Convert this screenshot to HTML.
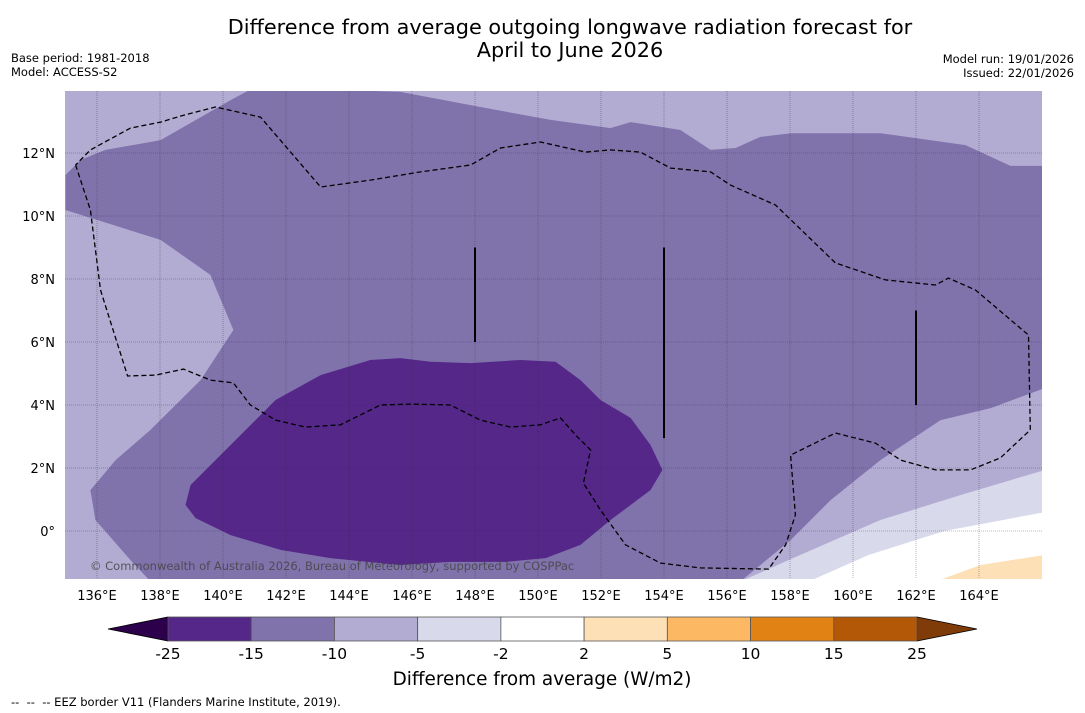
<!DOCTYPE html>
<html><head><meta charset="utf-8">
<style>
body{margin:0;background:#fff;width:1085px;height:713px;overflow:hidden;font-family:"DejaVu Sans","Liberation Sans",sans-serif;}
svg{position:absolute;left:0;top:0}
</style></head>
<body>
<svg id="chart" width="1085" height="713" viewBox="0 0 1085 713">
<text x="570" y="34" text-anchor="middle" font-size="20.8">Difference from average outgoing longwave radiation forecast for</text>
<text x="570" y="57" text-anchor="middle" font-size="20.8">April to June 2026</text>
<text x="11" y="62" font-size="11.5">Base period: 1981-2018</text>
<text x="11" y="76" font-size="11.5">Model: ACCESS-S2</text>
<text x="1074" y="63" font-size="11.5" text-anchor="end">Model run: 19/01/2026</text>
<text x="1074" y="77" font-size="11.5" text-anchor="end">Issued: 22/01/2026</text>
<defs><clipPath id="mapclip"><rect x="65" y="91" width="977" height="488"/></clipPath></defs>
<g id="map" clip-path="url(#mapclip)"></g>
<g id="axes"></g>
<g id="cbar"></g>
<text x="542" y="685" text-anchor="middle" font-size="18.4">Difference from average (W/m2)</text>
<text x="11" y="706" font-size="11.5" style="white-space:pre">--  --  -- EEZ border V11 (Flanders Marine Institute, 2019).</text>
</svg>
<script>
const lonTicks=[136,138,140,142,144,146,148,150,152,154,156,158,160,162,164];
const latTicks=[0,2,4,6,8,10,12];
const levelLabels=["-25","-15","-10","-5","-2","2","5","10","15","25"];
const levelColors=["#542788","#8073ac","#b2abd2","#d8daeb","#ffffff","#fee0b6","#fdb863","#e08214","#b35806"];
const contourMedium=[[135.0,11.3],[135.0,10.19],[138.02,9.24],[139.6,8.13],[140.33,6.38],[139.29,4.79],[137.7,3.21],[136.59,2.25],[135.79,1.3],[135.95,0.35],[137.06,-0.92],[137.7,-1.6],[156.43,-1.6],[158.02,-0.29],[159.29,0.98],[160.87,2.25],[162.78,3.52],[164.37,3.9],[166.1,4.54],[166.1,11.59],[165.0,11.59],[163.57,12.25],[160.87,12.63],[158.02,12.63],[157.06,12.51],[156.27,12.16],[155.48,12.1],[154.52,12.73],[152.94,12.98],[152.3,12.79],[150.4,13.05],[148.17,13.46],[145.63,13.94],[141.03,14.1],[140.24,13.68],[138.02,12.41],[136.27,12.1],[135.48,11.78]];
const contourDark=[[138.81,0.83],[138.97,1.46],[140.24,2.73],[141.67,4.16],[143.1,4.95],[144.68,5.43],[145.63,5.49],[146.59,5.37],[147.86,5.33],[149.44,5.43],[150.56,5.37],[151.35,4.79],[151.98,4.16],[152.94,3.59],[153.57,2.73],[153.95,1.94],[153.57,1.3],[152.3,0.35],[151.35,-0.44],[150.24,-0.86],[148.97,-0.98],[147.22,-0.98],[145.63,-1.08],[143.41,-0.86],[141.83,-0.6],[140.24,-0.13],[139.13,0.41]];
const contourPale=[[156.43,-1.6],[158.33,-0.76],[160.87,0.35],[163.41,1.14],[166.1,1.94],[166.1,-1.6]];
const contourWhite=[[158.6,-1.6],[160.5,-0.76],[162.9,0.0],[166.1,0.6],[166.1,-1.6]];
const contourPeach=[[162.62,-1.6],[164.05,-1.08],[166.1,-0.76],[166.1,-1.6]];
const eezLine=[[135.32,11.62],[135.79,10.19],[136.11,7.65],[136.97,4.92],[137.86,4.95],[138.75,5.14],[139.6,4.79],[140.33,4.7],[140.87,4.0],[141.67,3.52],[142.62,3.3],[143.73,3.37],[145.0,4.0],[145.95,4.03],[147.22,4.0],[148.17,3.52],[149.13,3.3],[150.08,3.37],[150.71,3.59],[151.19,3.05],[151.67,2.57],[151.44,1.52],[151.98,0.67],[152.78,-0.44],[153.89,-1.02],[155.16,-1.17],[157.32,-1.21],[157.86,-0.44],[158.17,0.51],[158.02,2.41],[159.44,3.11],[160.71,2.79],[161.51,2.25],[162.62,1.94],[163.73,1.94],[164.68,2.32],[165.63,3.21],[165.57,6.22],[163.89,7.65],[163.03,8.03],[162.62,7.81],[161.03,7.97],[159.44,8.51],[157.54,10.35],[156.11,10.98],[155.48,11.4],[154.21,11.52],[153.25,12.03],[152.3,12.1],[151.51,12.03],[150.08,12.35],[148.81,12.16],[147.86,11.62],[146.27,11.4],[144.68,11.14],[143.1,10.92],[141.19,13.14],[139.76,13.46],[138.65,13.17],[138.02,12.98],[137.06,12.79],[135.79,12.1],[135.32,11.62]];
const boundaryLines=[[148,9.0,6.0],[154,9.0,2.95],[162,7.0,4.0]];

const NS="http://www.w3.org/2000/svg";
const X=lon=>97+(lon-136)*31.5;
const Y=lat=>531-lat*31.5;
function mk(tag,attrs,parent){const e=document.createElementNS(NS,tag);for(const k in attrs)e.setAttribute(k,attrs[k]);parent.appendChild(e);return e;}
const map=document.getElementById('map'),axes=document.getElementById('axes'),cbar=document.getElementById('cbar');
let bg=mk('rect',{x:65,y:91,width:977,height:488,fill:"#b2abd2"},map);


const pts=a=>a.map(p=>X(p[0]).toFixed(1)+","+Y(p[1]).toFixed(1)).join(" ");
[[contourMedium,"#8073ac","contour-minus10-to-minus15"],[contourDark,"#542788","contour-below-minus15"],[contourPale,"#d8daeb","contour-minus5-to-minus2"],[contourWhite,"#ffffff","contour-near-zero"],[contourPeach,"#fee0b6","contour-plus2-to-plus5"]].forEach(([a,c,n])=>{
 const p=mk('polygon',{points:pts(a),fill:c},map);
 
 
});
lonTicks.forEach(l=>{const g=mk('line',{x1:X(l),x2:X(l),y1:91,y2:579,stroke:"#333",'stroke-opacity':0.45,'stroke-width':0.8,'stroke-dasharray':"1,1"},map);
 
 });
latTicks.forEach(l=>{const g=mk('line',{x1:65,x2:1042,y1:Y(l),y2:Y(l),stroke:"#333",'stroke-opacity':0.45,'stroke-width':0.8,'stroke-dasharray':"1,1"},map);
 
 });
const eez=mk('polyline',{points:pts(eezLine),fill:"none",stroke:"#000",'stroke-width':1.3,'stroke-dasharray':"5,3"},map);


boundaryLines.forEach(b=>{const l=mk('line',{x1:X(b[0]),x2:X(b[0]),y1:Y(b[1]),y2:Y(b[2]),stroke:"#000",'stroke-width':2},map);
 
 });
const cp=mk('text',{x:90,y:570,'font-size':11.5,fill:"#444",'fill-opacity':0.85},map);
cp.textContent="© Commonwealth of Australia 2026, Bureau of Meteorology, supported by COSPPac";


lonTicks.forEach(l=>{const t=mk('text',{x:X(l),y:600,'font-size':13,'text-anchor':'middle'},axes);t.textContent=l+"°E";
 
 });
latTicks.forEach(l=>{const t=mk('text',{x:55,y:Y(l)+5,'font-size':13,'text-anchor':'end'},axes);t.textContent=l===0?"0°":l+"°N";
 
 });
const cx0=168,cx1=917,cy=617,ch=24,seg=(cx1-cx0)/levelColors.length;
const lt=mk('polygon',{points:`108,629 ${cx0},${cy} ${cx0},${cy+ch}`,fill:"#2d004b",stroke:"#000",'stroke-width':0.8},cbar);


const rt=mk('polygon',{points:`977,629 ${cx1},${cy} ${cx1},${cy+ch}`,fill:"#7f3b08",stroke:"#000",'stroke-width':0.8},cbar);


levelColors.forEach((c,i)=>{const r=mk('rect',{x:cx0+i*seg,y:cy,width:seg,height:ch,fill:c,stroke:"#555",'stroke-width':0.8},cbar);
 
 });
levelLabels.forEach((s,i)=>{const t=mk('text',{x:cx0+i*seg,y:659,'font-size':15.5,'text-anchor':'middle'},cbar);t.textContent=s;
 
 });
</script>
</body></html>
